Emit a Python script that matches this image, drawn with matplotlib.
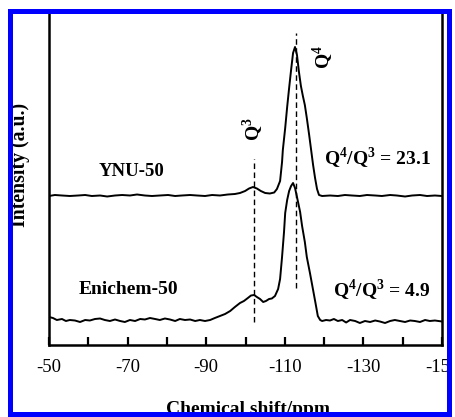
import matplotlib
matplotlib.use("Agg")
import matplotlib.pyplot as plt
from matplotlib.patches import Rectangle

plt.rcParams['font.family'] = ['Liberation Serif', 'DejaVu Serif']
plt.rcParams['mathtext.fontset'] = 'custom'
plt.rcParams['mathtext.rm'] = 'Liberation Serif'
plt.rcParams['mathtext.bf'] = 'Liberation Serif:bold'

# ---- data (ppm, intensity in arbitrary units) ----
ynu_ppm = [-50.0, -51.5, -53.3, -55.3, -57.4, -59.2, -60.9, -63.0, -64.8, -66.8,
           -68.6, -70.6, -72.4, -74.4, -76.2, -78.2, -80.3, -82.1, -83.8, -85.9,
           -87.7, -89.7, -91.5, -93.5, -95.5, -97.3, -98.6, -99.9, -100.9, -101.9,
           -102.9, -103.9, -105.0, -106.2, -107.3, -108.0, -108.8, -109.3, -109.5, -110.1,
           -110.6, -111.1, -111.6, -112.1, -112.6, -113.1, -113.6, -114.1, -114.6, -115.1,
           -115.6, -116.2, -116.7, -117.2, -117.7, -118.2, -118.7, -119.5, -121.5, -123.5,
           -125.3, -127.1, -129.1, -130.9, -133.0, -134.7, -136.8, -138.5, -140.6, -142.4,
           -144.4, -146.2, -148.2, -150.0]
ynu_int = [149, 150, 149.5, 149, 149.5, 150, 149, 149.5, 148.5, 149.5,
           150, 149.5, 150.5, 149.5, 149, 149.5, 150, 149, 149.5, 150,
           149.5, 149, 150, 149.5, 150.5, 151, 152, 154, 156.5, 158,
           156.5, 154, 152, 151.5, 152.5, 156, 164, 183, 195, 217,
           238, 257, 275, 292, 298, 290, 273, 259, 249, 240,
           227, 210, 195, 180, 167, 156, 150, 149, 149.5, 149,
           150, 149.5, 149, 150, 149.5, 149, 150, 149.5, 148.5, 149.5,
           150, 149, 149.5, 149]

eni_ppm = [-50.0, -51.0, -52.0, -53.3, -54.3, -55.3, -56.6, -57.9, -59.2, -60.4,
           -61.7, -63.0, -64.2, -65.5, -66.8, -68.1, -69.3, -70.6, -71.9, -73.2,
           -74.4, -75.7, -77.0, -78.2, -79.5, -80.8, -82.1, -83.3, -84.6, -85.9,
           -87.2, -88.4, -89.7, -91.0, -92.2, -93.5, -94.8, -96.1, -97.3, -98.6,
           -99.6, -100.6, -101.4, -102.2, -102.9, -103.7, -104.5, -105.2, -106.0, -106.7,
           -107.5, -108.3, -108.8, -109.3, -109.8, -110.1, -110.6, -111.1, -111.6, -112.1,
           -112.6, -113.1, -113.9, -114.4, -115.1, -115.6, -116.4, -117.2, -117.9, -118.4,
           -119.0, -119.5, -120.5, -121.5, -122.5, -123.5, -124.6, -125.6, -126.6, -127.9,
           -129.1, -130.4, -131.7, -133.0, -134.2, -135.5, -136.8, -138.0, -139.3, -140.6,
           -141.9, -143.1, -144.4, -145.7, -146.9, -148.2, -150.0]
eni_int = [28, 27, 25, 26, 24, 25, 24.5, 23, 25, 24.5,
           26, 26.5, 25, 24, 25.5, 24, 23, 25, 24, 26,
           25.5, 27, 26, 25, 26.5, 25.5, 24, 26, 25, 25.5,
           24, 25, 24, 25, 27, 29, 31, 34, 38, 42,
           44, 47, 49.5, 50, 48, 46, 43, 44, 46, 46.5,
           49, 56, 66, 88, 113, 132, 145, 154, 159, 162,
           157, 148, 133, 119, 103, 88, 72, 55, 40, 29,
           25, 24, 25, 24.5, 26, 24, 25, 22.5, 25, 24,
           22, 24, 23, 24.5, 23.5, 22, 24, 25, 24, 23,
           24.5, 24, 23, 25, 24, 24.5, 23.5]

q3_ppm, q3_range = -102.1, (23, 186)
q4_ppm, q4_range = -112.8, (57, 312)

xticks_major = [-50, -70, -90, -110, -130, -150]
xticks_minor = [-60, -80, -100, -120, -140]

W, H = 455, 417
fig = plt.figure(figsize=(W / 100, H / 100), dpi=100)
ax = fig.add_axes([49 / W, (H - 345) / H, (442 - 49) / W, (345 - 13) / H])

ax.plot(ynu_ppm, ynu_int, color='black', lw=1.4)
ax.plot(eni_ppm, eni_int, color='black', lw=1.4)
ax.vlines([q3_ppm], *q3_range, colors='black', linestyles=(0, (4, 2.5)), lw=1.0)
ax.vlines([q4_ppm], *q4_range, colors='black', linestyles=(0, (4, 2.5)), lw=1.0)

ax.set_xlim(-50, -150)
ax.set_ylim(0, 332)
ax.set_yticks([])
ax.set_xticks(xticks_major)
ax.set_xticks(xticks_minor, minor=True)
ax.set_xticklabels([str(v) for v in xticks_major])
ax.tick_params(axis='x', which='both', direction='in', length=6, width=1.6,
               labelsize=13.5, pad=10)
for s in ['left', 'right', 'bottom']:
    ax.spines[s].set_linewidth(1.8)
ax.spines['top'].set_visible(False)

ax.set_ylabel('Intensity (a.u.)', fontsize=14.2, fontweight='bold', va='center')
ax.yaxis.set_label_coords((20 - 49) / 393, (345 - 165) / 332)
ax.set_xlabel('Chemical shift/ppm', fontsize=14, fontweight='bold', va='center')
ax.xaxis.set_label_coords((248 - 49) / 393, (345 - 410) / 332)

ax.text(-71.1, 173, 'YNU-50', fontsize=13.5, fontweight='bold', ha='center', va='center')
ax.text(-70.1, 56, 'Enichem-50', fontsize=14, fontweight='bold', ha='center', va='center')
ax.text(-133.7, 187, r'Q$^{\mathbf{4}}$/Q$^{\mathbf{3}}$ = 23.1', fontsize=14,
        fontweight='bold', ha='center', va='center')
ax.text(-134.7, 55, r'Q$^{\mathbf{4}}$/Q$^{\mathbf{3}}$ = 4.9', fontsize=14,
        fontweight='bold', ha='center', va='center')
ax.text(-101.9, 216, r'Q$^{\mathbf{3}}$', fontsize=14, fontweight='bold',
        rotation=90, ha='center', va='center')
ax.text(-119.7, 288, r'Q$^{\mathbf{4}}$', fontsize=14, fontweight='bold',
        rotation=90, ha='center', va='center')

# border frame (white margin + blue band)
def frect(x0, y0, x1, y1, color):
    r = Rectangle((x0 / W, (H - y1) / H), (x1 - x0) / W, (y1 - y0) / H,
                  transform=fig.transFigure, facecolor=color, edgecolor='none',
                  zorder=20)
    fig.add_artist(r)

frect(0, 0, 8, H, 'white')
frect(0, 0, W, 9, 'white')
frect(452, 0, W, H, 'white')
frect(8, 9, 13, 417, '#0000ff')
frect(8, 9, 452, 14, '#0000ff')
frect(447, 9, 452, 417, '#0000ff')
frect(8, 412, 452, 417, '#0000ff')

fig.savefig('out.png', dpi=100)
